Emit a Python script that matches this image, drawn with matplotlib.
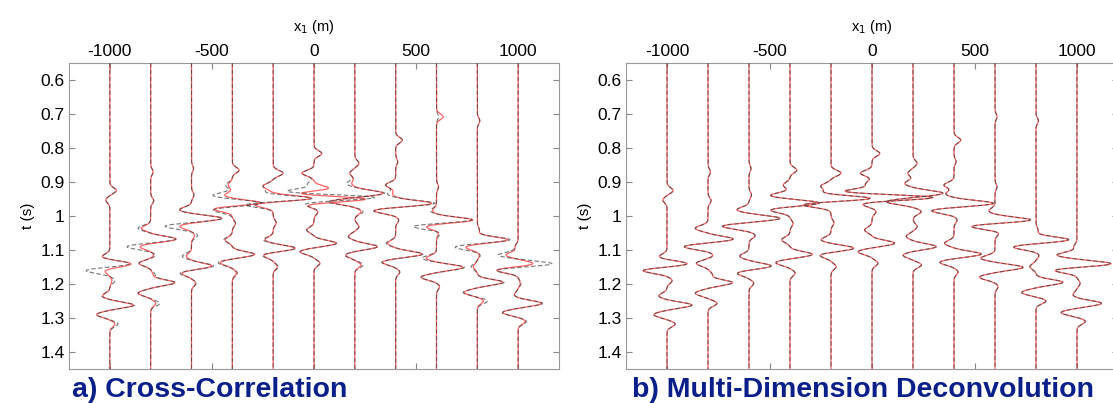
import numpy as np
import matplotlib.pyplot as plt

plt.rcParams['font.family'] = ['Liberation Sans', 'DejaVu Sans']
plt.rcParams['axes.unicode_minus'] = False

# receiver offsets (m)
offsets = [-1000, -800, -600, -400, -200, 0, 200, 400, 600, 800, 1000]

# wiggle lobes: (time s, horizontal swing m)
# reference traces (black dashed), same in both panels
ref_lobes = [
    [(0.925, 30), (0.953, -20), (1.12, -40), (1.141, 106), (1.16, -122), (1.19, 25),
     (1.235, -40), (1.262, 122), (1.29, -65), (1.318, 40)],
    [(0.87, 12), (0.955, 15), (1.036, -62), (1.068, 126), (1.09, -119), (1.115, 25),
     (1.139, -57), (1.172, 20), (1.196, 120), (1.227, -62), (1.257, 44)],
    [(0.86, 10), (0.938, 12), (0.982, -59), (1.007, 154), (1.03, -132), (1.057, 30),
     (1.118, -45), (1.147, 110), (1.168, -59), (1.198, 23)],
    [(0.865, 33), (0.909, -33), (0.94, -98), (0.962, 150), (0.982, -100), (1.022, 15),
     (1.07, -41), (1.113, 110), (1.137, -70), (1.168, 25)],
    [(0.874, 49), (0.912, -49), (0.935, -60), (0.948, 220), (0.966, -150), (1.02, 15),
     (1.07, -49), (1.095, 114), (1.115, -57), (1.149, 25)],
    [(0.816, 38), (0.874, -56), (0.905, -30), (0.93, -170), (0.945, 330), (0.963, -60),
     (0.987, 20), (1.041, -36), (1.08, 111), (1.105, -69), (1.139, 29)],
    [(0.845, 20), (0.874, -25), (0.904, -40), (0.933, 147), (0.958, -131), (0.987, 40),
     (1.031, 20), (1.06, -33), (1.09, 114), (1.115, -49), (1.144, 41)],
    [(0.777, 33), (0.84, 10), (0.909, -49), (0.935, -40), (0.963, 196), (0.984, -114),
     (1.012, 15), (1.08, -46), (1.112, 134), (1.136, -70), (1.165, 20)],
    [(0.708, 10), (0.914, 10), (0.985, -30), (1.012, 183), (1.03, -127), (1.05, 20),
     (1.124, -70), (1.151, 137), (1.18, -76), (1.208, 15)],
    [(0.72, 12), (1.041, 10), (1.07, 163), (1.091, -114), (1.115, 15), (1.149, -30),
     (1.195, 131), (1.225, -70), (1.25, 49)],
    [(1.09, -15), (1.115, -98), (1.141, 175), (1.159, -118), (1.198, 15), (1.232, -20),
     (1.257, 120), (1.284, -78), (1.31, 41)],
]

# cross-correlation result (red, panel a)
cc_lobes = [
    [(0.925, 33), (0.953, -20), (1.12, -40), (1.141, 106), (1.162, -25), (1.19, 10),
     (1.235, -35), (1.262, 115), (1.29, -65), (1.318, 25)],
    [(0.87, 12), (0.955, 15), (1.036, -45), (1.068, 126), (1.09, -54), (1.115, 15),
     (1.139, -57), (1.172, 10), (1.196, 118), (1.227, -62), (1.257, 25)],
    [(0.86, 10), (0.938, 12), (0.982, -59), (1.007, 150), (1.03, -59), (1.057, 15),
     (1.118, -25), (1.147, 100), (1.168, -50), (1.198, 20)],
    [(0.865, 33), (0.909, -20), (0.94, -40), (0.962, 150), (0.978, -106), (1.022, 15),
     (1.07, -35), (1.113, 110), (1.137, -60), (1.168, 20)],
    [(0.874, 49), (0.912, -49), (0.935, -20), (0.948, 200), (0.966, -100), (1.02, 15),
     (1.07, -40), (1.095, 110), (1.115, -50), (1.149, 20)],
    [(0.816, 38), (0.874, -60), (0.92, 87), (0.935, -120), (0.95, 280), (0.966, -50),
     (0.987, 20), (1.041, -36), (1.08, 111), (1.105, -69), (1.139, 29)],
    [(0.845, 20), (0.874, -25), (0.904, -15), (0.933, 140), (0.958, -120), (0.987, 30),
     (1.031, 20), (1.06, -30), (1.09, 110), (1.115, -45), (1.144, 30)],
    [(0.777, 33), (0.84, 10), (0.909, -49), (0.935, -15), (0.963, 180), (0.984, -110),
     (1.012, 15), (1.08, -40), (1.112, 130), (1.136, -65), (1.165, 20)],
    [(0.708, 33), (0.914, 10), (0.985, -20), (1.012, 183), (1.03, -60), (1.05, 10),
     (1.124, -50), (1.151, 130), (1.18, -76), (1.208, 15)],
    [(0.72, 12), (1.041, 10), (1.07, 150), (1.091, -60), (1.115, 10), (1.149, -20),
     (1.195, 125), (1.225, -65), (1.25, 30)],
    [(1.09, -15), (1.115, -60), (1.141, 80), (1.159, -110), (1.198, 10), (1.232, -20),
     (1.257, 115), (1.284, -76), (1.31, 35)],
]

# MDD result (red, panel b) sits on the reference
mdd_lobes = ref_lobes

t = np.arange(0.55, 1.4501, 0.0005)
lobe_w = 0.0115


def trace(x0, lobes):
    s = np.zeros_like(t)
    for tc, a in lobes:
        s += a * np.exp(-((t - tc) / lobe_w) ** 2)
    return x0 + s


fig = plt.figure(figsize=(11.13, 4.03), dpi=100)
W, H = 1113.0, 403.0
ax_a = fig.add_axes([69 / W, 34 / H, 490 / W, 306 / H])
ax_b = fig.add_axes([626 / W, 34 / H, 492 / W, 306 / H])

for ax, red in [(ax_a, cc_lobes), (ax_b, mdd_lobes)]:
    for x0, rl, bl in zip(offsets, red, ref_lobes):
        ax.plot(trace(x0, rl), t, color='#ff6262', lw=0.9, zorder=2)
        ax.plot(trace(x0, bl), t, color='#3c3c3c', lw=0.8, alpha=0.7,
                dashes=(4, 2.2), zorder=3)

    ax.set_xlim(-1200, 1200)
    ax.set_ylim(1.45, 0.55)
    ax.set_xticks([-1000, -500, 0, 500, 1000])
    ax.set_yticks([0.6, 0.7, 0.8, 0.9, 1.0, 1.1, 1.2, 1.3, 1.4])
    ax.set_yticklabels(['0.6', '0.7', '0.8', '0.9', '1', '1.1', '1.2', '1.3', '1.4'])
    ax.xaxis.tick_top()
    ax.xaxis.set_label_position('top')
    ax.tick_params(which='both', direction='in', top=True, bottom=True, left=True,
                   right=True, labeltop=True, labelbottom=False, length=4,
                   color='#888888', labelsize=12.5, pad=3)
    for sp in ax.spines.values():
        sp.set_color('#999999')
        sp.set_linewidth(0.8)
    ax.set_xlabel('x$_1$ (m)', fontsize=10.5, labelpad=9)
    ax.set_ylabel('t (s)', fontsize=11, labelpad=4)

fig.text(72 / W, 1 - 397 / H, 'a) Cross-Correlation', color='#0b1f8a',
         fontsize=20.5, fontweight='bold', va='baseline')
fig.text(632 / W, 1 - 397 / H, 'b) Multi-Dimension Deconvolution', color='#0b1f8a',
         fontsize=20.5, fontweight='bold', va='baseline')

fig.savefig('out.png', dpi=100)
